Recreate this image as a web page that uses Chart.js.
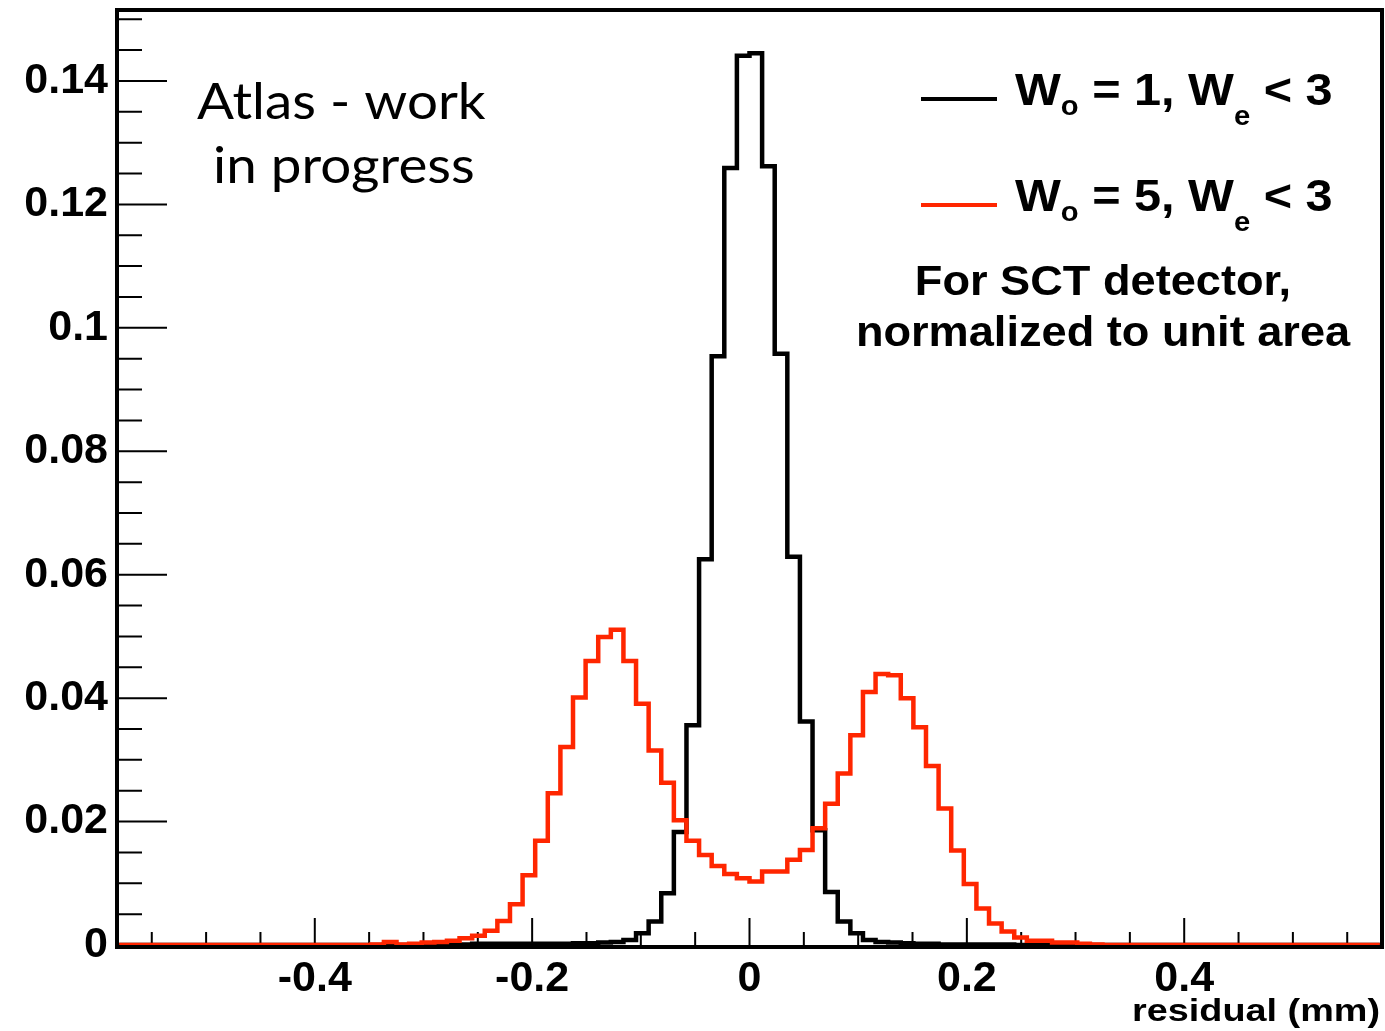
<!DOCTYPE html>
<html>
<head>
<meta charset="utf-8">
<script src="https://cdn.jsdelivr.net/npm/chart.js@4.4.0/dist/chart.umd.min.js"></script>
<style>
  html, body { margin: 0; padding: 0; background: #fff; }
</style>
</head>
<body>
<canvas id="resChart" width="1385" height="1031"></canvas>
<script>
// binning of both residual histograms: 100 bins over [-0.58, 0.58] mm
const binLow = -0.58;
const binWidth = 0.0116;

const xTickValues = [-0.4, -0.2, 0, 0.2, 0.4];
const yTickValues = [0, 0.02, 0.04, 0.06, 0.08, 0.1, 0.12, 0.14];

// Wo = 1, We < 3 (normalised bin contents, first bin starts at binLow)
const wo1 = [
  0, 0, 0, 0, 0, 0, 0, 0, 0, 0,
  0, 0, 0, 0, 0, 0, 0, 0, 0, 0,
  0, 0.0001, 0, 0, 0.0001, 0.0001, 0.0001, 0.0001, 0.0002, 0.0002,
  0.0002, 0.0002, 0.0002, 0.0002, 0.0002, 0.0002, 0.0003, 0.0003, 0.0004, 0.0005,
  0.0008, 0.0019, 0.0038, 0.0084, 0.0183, 0.0356, 0.0625, 0.0954, 0.1259, 0.1441,
  0.1445, 0.1262, 0.0958, 0.0629, 0.0362, 0.0186, 0.0086, 0.0038, 0.0019, 0.0008,
  0.0005, 0.0004, 0.0003, 0.0002, 0.0002, 0.0001, 0.0001, 0.0001, 0.0001, 0.0001,
  0.0001, 0, 0, 0, 0, 0, 0, 0, 0, 0,
  0, 0, 0, 0, 0, 0, 0, 0, 0, 0,
  0, 0, 0, 0, 0, 0, 0, 0, 0, 0
];

// Wo = 5, We < 3
const wo5 = [
  0, 0, 0, 0, 0, 0, 0, 0, 0, 0,
  0, 0, 0, 0, 0, 0, 0, 0, 0, 0,
  0.0001, 0.0005, 0.0001, 0.0002, 0.0004, 0.0005, 0.0007, 0.0011, 0.0015, 0.0023,
  0.0039, 0.0066, 0.0113, 0.0169, 0.0246, 0.0321, 0.0401, 0.0460, 0.0499, 0.0511,
  0.0460, 0.0391, 0.0315, 0.0263, 0.0202, 0.0169, 0.0146, 0.0128, 0.0115, 0.0108,
  0.0103, 0.0119, 0.0119, 0.0138, 0.0154, 0.0189, 0.0229, 0.0278, 0.0340, 0.0410,
  0.0439, 0.0437, 0.0400, 0.0353, 0.0290, 0.0221, 0.0153, 0.0099, 0.0059, 0.0035,
  0.0022, 0.0012, 0.0007, 0.0007, 0.0004, 0.0004, 0.0002, 0.0001, 0, 0,
  0, 0, 0, 0, 0, 0, 0, 0, 0, 0,
  0, 0, 0, 0, 0, 0, 0, 0, 0, 0
];

const RED = 'rgb(255,38,0)';
const LABEL_FONT = '"Liberation Sans", Arial, Helvetica, sans-serif';

// step outline: one point per low edge, plus the last high edge
function toSteps(vals) {
  const pts = vals.map((v, i) => ({ x: binLow + i * binWidth, y: v }));
  pts.push({ x: binLow + vals.length * binWidth, y: vals[vals.length - 1] });
  return pts;
}

function fmt(v) {
  return String(Math.round(v * 100) / 100);
}

// frame + inward ticks like a ROOT canvas
const frameTicks = {
  id: 'frameTicks',
  beforeDatasetsDraw(chart) {
    const { ctx, chartArea: a, scales: { x, y } } = chart;
    ctx.save();
    ctx.strokeStyle = '#000';
    ctx.lineWidth = 2;
    ctx.beginPath();
    for (let i = -11; i <= 11; i++) {
      const px = x.getPixelForValue(i * 0.05);
      const len = i % 4 === 0 ? 27 : 13;
      ctx.moveTo(px, a.bottom);
      ctx.lineTo(px, a.bottom - len);
    }
    for (let i = 0; i <= 30; i++) {
      const py = y.getPixelForValue(i * 0.005);
      const len = i % 4 === 0 ? 50 : 25;
      ctx.moveTo(a.left, py);
      ctx.lineTo(a.left + len, py);
    }
    ctx.stroke();
    ctx.lineWidth = 4;
    ctx.strokeRect(a.left, a.top, a.right - a.left, a.bottom - a.top + 2);
    ctx.restore();
  }
};

function drawRich(ctx, x, y, parts, sx) {
  ctx.save();
  ctx.translate(x, y);
  ctx.scale(sx, 1);
  let cx = 0;
  for (const p of parts) {
    ctx.font = 'bold ' + p.size + 'px ' + LABEL_FONT;
    ctx.fillText(p.text, cx, p.dy || 0);
    cx += ctx.measureText(p.text).width;
  }
  ctx.restore();
}

function drawWide(ctx, text, x, y, font, sx, align) {
  ctx.save();
  ctx.translate(x, y);
  ctx.scale(sx, 1);
  ctx.textAlign = align;
  ctx.font = font;
  ctx.fillText(text, 0, 0);
  ctx.restore();
}

// legend, captions and axis title
const captions = {
  id: 'captions',
  afterDraw(chart) {
    const { ctx } = chart;
    ctx.save();
    ctx.fillStyle = '#000';
    ctx.textBaseline = 'alphabetic';

    ctx.lineWidth = 4;
    ctx.strokeStyle = '#000';
    ctx.beginPath(); ctx.moveTo(921, 99); ctx.lineTo(997, 99); ctx.stroke();
    ctx.strokeStyle = RED;
    ctx.beginPath(); ctx.moveTo(921, 205); ctx.lineTo(997, 205); ctx.stroke();

    drawRich(ctx, 1015, 105, [
      { text: 'W', size: 45 }, { text: 'o', size: 27, dy: 10 },
      { text: ' = 1, W', size: 45 }, { text: 'e', size: 27, dy: 20 },
      { text: ' < 3', size: 45 }
    ], 1.08);
    drawRich(ctx, 1015, 211, [
      { text: 'W', size: 45 }, { text: 'o', size: 27, dy: 10 },
      { text: ' = 5, W', size: 45 }, { text: 'e', size: 27, dy: 20 },
      { text: ' < 3', size: 45 }
    ], 1.08);

    const boldF = 'bold 42px ' + LABEL_FONT;
    drawWide(ctx, 'For SCT detector,', 1103, 295, boldF, 1.075, 'center');
    drawWide(ctx, 'normalized to unit area', 1103, 346, boldF, 1.075, 'center');

    const atlasF = '50px Lato, "Open Sans", sans-serif';
    drawWide(ctx, 'Atlas - work', 197, 119, atlasF, 1.095, 'left');
    drawWide(ctx, 'in progress', 213, 183, atlasF, 1.095, 'left');

    drawWide(ctx, 'residual (mm)', 1380, 1021, 'bold 31px ' + LABEL_FONT, 1.22, 'right');

    ctx.restore();
  }
};

const tickFont = { family: LABEL_FONT, size: 43, weight: 'bold' };

new Chart(document.getElementById('resChart').getContext('2d'), {
  type: 'line',
  data: {
    datasets: [
      {
        label: 'Wo = 5, We < 3',
        data: toSteps(wo5),
        borderColor: RED,
        borderWidth: 4.5,
        stepped: true,
        pointRadius: 0,
        fill: false
      },
      {
        label: 'Wo = 1, We < 3',
        data: toSteps(wo1),
        borderColor: '#000',
        borderWidth: 4.5,
        stepped: true,
        pointRadius: 0,
        fill: false
      }
    ]
  },
  options: {
    responsive: false,
    animation: false,
    layout: { padding: { top: 10, right: 3, left: 0, bottom: 0 } },
    plugins: { legend: { display: false }, tooltip: { enabled: false } },
    scales: {
      x: {
        type: 'linear',
        min: -0.582,
        max: 0.582,
        afterFit(s) { s.height = 86; s.paddingLeft = 0; s.paddingRight = 0; },
        afterBuildTicks(s) { s.ticks = xTickValues.map(v => ({ value: v })); },
        grid: { display: false, drawTicks: false },
        border: { display: false },
        ticks: { font: tickFont, color: '#000', padding: 8, maxRotation: 0, autoSkip: false, callback: v => fmt(v) }
      },
      y: {
        type: 'linear',
        min: 0,
        max: 0.1515,
        afterFit(s) { s.width = 117; s.paddingTop = 0; s.paddingBottom = 0; },
        afterBuildTicks(s) { s.ticks = yTickValues.map(v => ({ value: v })); },
        grid: { display: false, drawTicks: false },
        border: { display: false },
        ticks: { font: tickFont, color: '#000', padding: 9, autoSkip: false, callback: v => fmt(v) }
      }
    }
  },
  plugins: [frameTicks, captions]
});
</script>
</body>
</html>
